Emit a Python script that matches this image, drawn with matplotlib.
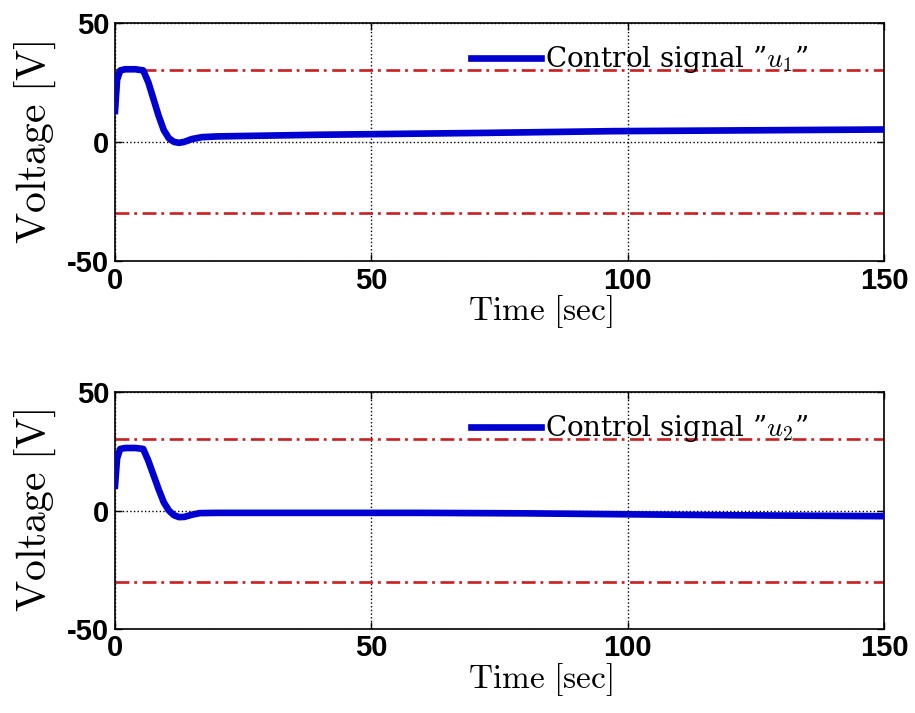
import matplotlib
matplotlib.use('Agg')
import matplotlib.pyplot as plt
import numpy as np

plt.rcParams['mathtext.fontset'] = 'cm'
plt.rcParams['font.family'] = ['Liberation Sans', 'DejaVu Sans']
plt.rcParams['axes.unicode_minus'] = False
plt.rcParams['lines.scale_dashes'] = False

# control signal u1 (keypoints)
t1 = [0, 0.4, 1, 2, 4, 5.5, 6.5, 7.5, 8.5, 9.5, 10.5, 11.5, 12.5, 13.5, 15, 17, 20, 40, 73, 97, 120, 150]
u1 = [13, 26, 30, 30.5, 30.5, 30, 25, 18, 11, 5, 1.5, 0, -0.4, 0, 1.2, 2, 2.3, 3, 3.8, 4.5, 4.8, 5.2]

# control signal u2
t2 = [0, 0.4, 1, 2, 4, 5.5, 6.5, 7.5, 8.5, 9.5, 10.5, 11.5, 12.5, 13.5, 15, 16.5, 20, 40, 60, 80, 100, 120, 150]
u2 = [10.5, 22, 26, 26.4, 26.4, 26, 21, 15, 9, 3.5, 0, -2, -2.8, -2.7, -1.8, -1.1, -1, -1, -1, -1.2, -1.6, -2, -2.4]

limit = 30
labels = ['Control signal \u201d$u_1$\u201d', 'Control signal \u201d$u_2$\u201d']

fig = plt.figure(figsize=(9.15, 7.13), dpi=100)
ax1 = fig.add_axes([0.1257, 0.634, 0.8405, 0.334])
ax2 = fig.add_axes([0.1257, 0.118, 0.8405, 0.332])

for ax, t, u, lab in [(ax1, t1, u1, labels[0]), (ax2, t2, u2, labels[1])]:
    ax.plot(t, u, color='#0000d0', linewidth=4.8, label=lab, zorder=3)
    ax.axhline(limit, color='#c82020', linewidth=1.9, dashes=(10, 3.5, 2, 4), zorder=2)
    ax.axhline(-limit, color='#c82020', linewidth=1.9, dashes=(10, 3.5, 2, 4), zorder=2)
    ax.set_xlim(0, 150)
    ax.set_ylim(-50, 50)
    ax.set_xticks([0, 50, 100, 150])
    ax.set_yticks([-50, 0, 50])
    ax.grid(True, color='black', linestyle=':', linewidth=1.0)
    ax.tick_params(direction='in', length=5, width=1, labelsize=21, pad=4,
                   top=True, right=True)
    for tl in ax.get_xticklabels() + ax.get_yticklabels():
        tl.set_fontweight('bold')
    for s in ax.spines.values():
        s.set_linewidth(1.2)
    ax.set_xlabel(r'$\mathrm{Time\ [sec]}$', fontsize=24)
    ax.xaxis.set_label_coords(0.553, -0.135)
    ax.set_ylabel(r'$\mathrm{Voltage\ [V]}$', fontsize=30)
    ax.yaxis.set_label_coords(-0.074, 0.5)
    ax.legend(loc='upper left', frameon=False, handlelength=2.5,
              handletextpad=0.15, borderaxespad=0.0, borderpad=0.0,
              bbox_to_anchor=(0.463, 0.91),
              prop={'family': 'DejaVu Serif', 'size': 20})

fig.savefig('out.png', dpi=100)
